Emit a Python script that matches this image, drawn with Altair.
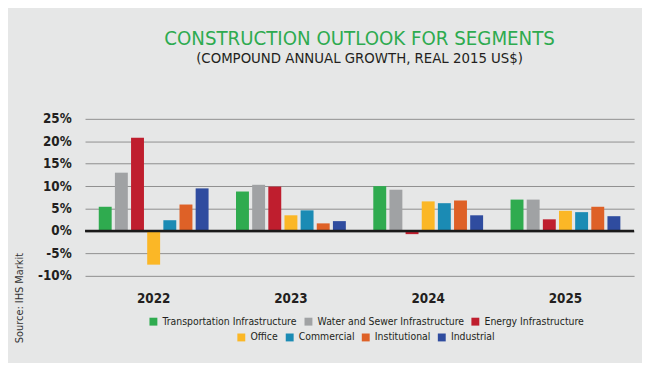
import altair as alt
import pandas as pd

years = ["2022", "2023", "2024", "2025"]
segments = [
    "Transportation Infrastructure",
    "Water and Sewer Infrastructure",
    "Energy Infrastructure",
    "Office",
    "Commercial",
    "Institutional",
    "Industrial",
]
transport = [5.4, 8.8, 10.0, 7.0]
water = [13.0, 10.3, 9.2, 7.0]
energy = [20.8, 9.9, -0.7, 2.6]
office = [-7.5, 3.5, 6.6, 4.5]
commercial = [2.4, 4.6, 6.2, 4.2]
institutional = [5.9, 1.7, 6.8, 5.4]
industrial = [9.5, 2.2, 3.5, 3.3]
y_ticks = [-10, -5, 0, 5, 10, 15, 20, 25]
colors = ["#2fab4f", "#a0a2a4", "#bf1e2e", "#fbb726", "#1b8bb4", "#de6127", "#2f4c9f"]

series = [transport, water, energy, office, commercial, institutional, industrial]
rows = []
for seg, vals in zip(segments, series):
    for yr, v in zip(years, vals):
        rows.append({"year": yr, "segment": seg, "value": v})
df = pd.DataFrame(rows)

FONT = "DejaVu Sans Condensed, sans-serif"
DARK = "#231f20"

x_enc = alt.X(
    "year:N",
    sort=years,
    scale=alt.Scale(paddingInner=0.2, paddingOuter=0.1),
    axis=alt.Axis(
        title=None, labelAngle=0, labelFont=FONT, labelFontSize=13.5,
        labelFontWeight="bold", labelColor=DARK, labelPadding=16,
        domain=False, ticks=False,
    ),
)
xo_enc = alt.XOffset("segment:N", sort=segments,
                     scale=alt.Scale(domain=segments, paddingInner=0.2, paddingOuter=0))
y_enc = alt.Y(
    "value:Q",
    scale=alt.Scale(domain=[-10, 25], nice=False, zero=False),
    axis=alt.Axis(
        values=y_ticks, labelExpr="datum.value + '%'", labelFont=FONT,
        labelFontSize=13.5, labelFontWeight="bold", labelColor=DARK,
        labelPadding=14, labelOverlap=False, grid=True, gridColor="#8e8e8e",
        gridWidth=1, domain=False, ticks=False,
        title="Source: IHS Markit", titleFont=FONT, titleFontSize=11,
        titleFontWeight="normal", titleColor="#333333",
        titleX=-66, titleY=181, titleAlign="center", titleBaseline="middle",
        titleAngle=270,
    ),
)

legend_common = dict(
    orient="none", direction="horizontal", title=None, symbolType="square",
    symbolSize=64, symbolStrokeWidth=0, labelFont=FONT, labelFontSize=10.5,
    labelColor=DARK, labelOffset=4, columnPadding=6, symbolOpacity=1,
    labelLimit=0,
)

base = alt.Chart(df)
layer1 = base.transform_filter(
    alt.FieldOneOfPredicate(field="segment", oneOf=segments[:3])
).mark_bar().encode(
    x=x_enc, xOffset=xo_enc, y=y_enc,
    color=alt.Color("segment:N", sort=segments[:3],
                    scale=alt.Scale(domain=segments[:3], range=colors[:3]),
                    legend=alt.Legend(legendX=64, legendY=200, **legend_common)),
)
layer2 = base.transform_filter(
    alt.FieldOneOfPredicate(field="segment", oneOf=segments[3:])
).mark_bar().encode(
    x=x_enc, xOffset=xo_enc, y=y_enc,
    fill=alt.Fill("segment:N", sort=segments[3:],
                  scale=alt.Scale(domain=segments[3:], range=colors[3:]),
                  legend=alt.Legend(legendX=153, legendY=216, **legend_common)),
)
zero = alt.Chart(pd.DataFrame({"value": [0]})).mark_rule(
    color="#1a1a1a", strokeWidth=2.5
).encode(y=y_enc)

chart = alt.layer(layer1, layer2, zero).resolve_scale(
    color="independent", fill="independent"
).properties(
    width=556,
    height=159,
    title=alt.Title(
        "CONSTRUCTION OUTLOOK FOR SEGMENTS",
        subtitle="(COMPOUND ANNUAL GROWTH, REAL 2015 US$)",
        font=FONT, fontSize=20.5, fontWeight="normal", color="#2eab50",
        subtitleFont=FONT, subtitleFontSize=15, subtitleColor=DARK,
        subtitlePadding=1, anchor="middle", offset=47,
    ),
    padding={"left": 78, "top": 110, "right": 8, "bottom": 86},
    autosize=alt.AutoSizeParams(type="none"),
    background="#e6e7e7",
).configure_view(stroke=None)

chart.save("out.html", embed_options={"renderer": "svg", "actions": False})
